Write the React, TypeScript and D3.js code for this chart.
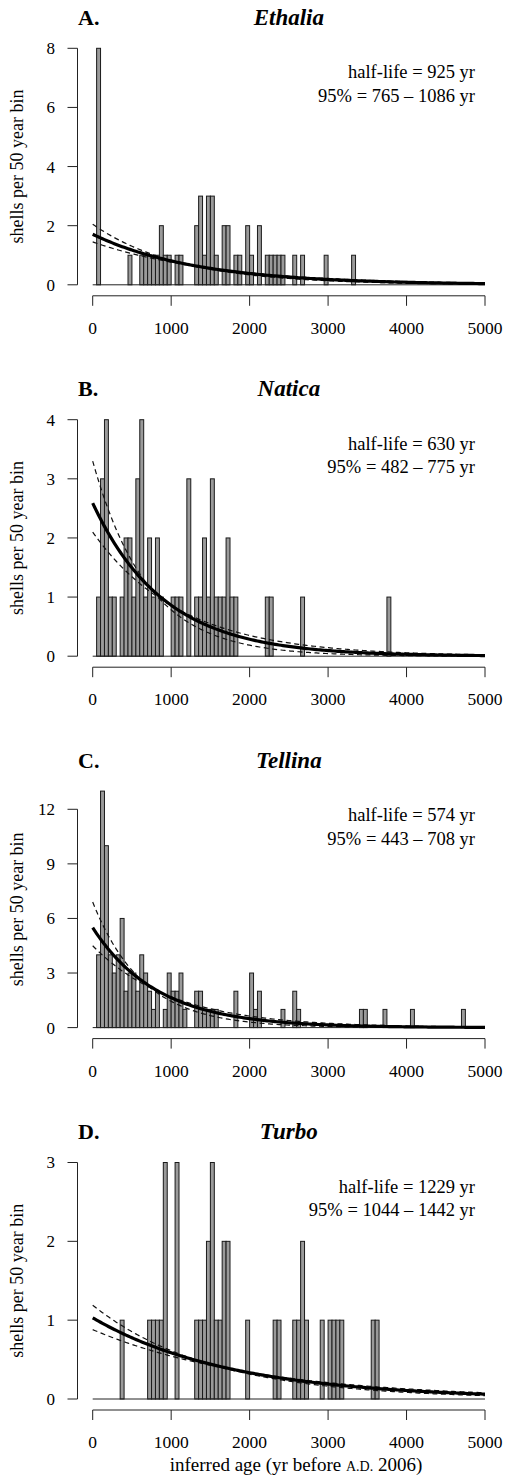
import React from 'react';
import * as d3 from 'd3';

// ---------- data ----------
const BIN_WIDTH = 50; // years per bin
const panelLetters = ['A.', 'B.', 'C.', 'D.'];
const taxa = ['Ethalia', 'Natica', 'Tellina', 'Turbo'];

// bin start (yr) and number of shells in that 50-year bin
const ethaliaBins = [50, 450, 600, 650, 700, 750, 800, 850, 900, 950, 1050, 1100, 1300, 1350, 1400, 1450, 1500, 1550, 1650, 1700, 1800, 1850, 1950, 2000, 2100, 2200, 2250, 2300, 2350, 2400, 2550, 2650, 2950, 3300];
const ethaliaCounts = [8, 1, 1, 1, 1, 1, 1, 2, 1, 1, 1, 1, 2, 3, 1, 3, 3, 1, 2, 2, 1, 1, 2, 1, 2, 1, 1, 1, 1, 1, 1, 1, 1, 1];

const naticaBins = [50, 100, 150, 200, 250, 350, 400, 450, 500, 550, 600, 650, 700, 750, 800, 850, 1000, 1050, 1100, 1200, 1300, 1350, 1400, 1450, 1500, 1550, 1600, 1650, 1700, 1750, 1800, 2200, 2250, 2650, 3750];
const naticaCounts = [1, 3, 4, 1, 1, 1, 2, 2, 1, 3, 4, 1, 2, 1, 2, 1, 1, 1, 1, 3, 1, 1, 2, 1, 3, 1, 1, 1, 2, 1, 1, 1, 1, 1, 1];

const tellinaBins = [50, 100, 150, 200, 250, 300, 350, 400, 450, 500, 550, 600, 650, 700, 750, 800, 900, 950, 1000, 1050, 1100, 1150, 1300, 1350, 1400, 1450, 1500, 1550, 1800, 2000, 2050, 2100, 2400, 2550, 2600, 3400, 3450, 3700, 4050, 4700];
const tellinaCounts = [4, 13, 10, 4, 3, 4, 6, 2, 3, 3, 2, 4, 3, 2, 1, 2, 1, 3, 2, 2, 3, 1, 2, 2, 1, 1, 1, 1, 2, 3, 1, 2, 1, 2, 1, 1, 1, 1, 1, 1];

const turboBins = [350, 700, 750, 800, 850, 900, 1050, 1300, 1350, 1400, 1450, 1500, 1550, 1600, 1650, 1700, 1950, 2300, 2350, 2550, 2600, 2650, 2700, 2900, 3000, 3050, 3100, 3150, 3550, 3600];
const turboCounts = [1, 1, 1, 1, 1, 3, 3, 1, 1, 1, 2, 3, 1, 1, 2, 2, 1, 1, 1, 1, 1, 2, 1, 1, 1, 1, 1, 1, 1, 1];

const binStarts = [ethaliaBins, naticaBins, tellinaBins, turboBins];
const binCounts = [ethaliaCounts, naticaCounts, tellinaCounts, turboCounts];

// fitted exponential decay (half-life) and 95% interval
const halfLives = [925, 630, 574, 1229];
const ciLower = [765, 482, 443, 1044];
const ciUpper = [1086, 775, 708, 1442];
const fitStart = [1.71, 2.59, 5.49, 1.03];      // fitted value at age 0
const fitStartLower = [2.05, 3.3, 6.9, 1.19];   // curve for lower half-life bound
const fitStartUpper = [1.45, 2.1, 4.5, 0.88];   // curve for upper half-life bound

const yMaxes = [8, 4, 13, 3];
const yTickValues = [[0, 2, 4, 6, 8], [0, 1, 2, 3, 4], [0, 3, 6, 9, 12], [0, 1, 2, 3]];
const xTickValues = [0, 1000, 2000, 3000, 4000, 5000];
const X_MAX = 5000;

// ---------- layout ----------
const W = 513;
const H = 1477;
const PLOT_LEFT = 92.7;
const PLOT_RIGHT = 485;
const PANEL_TOP0 = 48.3;
const PANEL_STEP = 371.4;
const PANEL_H = 236.5;
const Y_AXIS_X = 77.5;
const FONT = "'Liberation Serif', 'DejaVu Serif', 'Times New Roman', serif";

const xScale = d3.scaleLinear().domain([0, X_MAX]).range([PLOT_LEFT, PLOT_RIGHT]);

function Panel({ i }: { i: number }) {
  const top = PANEL_TOP0 + PANEL_STEP * i;
  const base = top + PANEL_H;
  const y = d3.scaleLinear().domain([0, yMaxes[i]]).range([base, top]);
  const ticks = yTickValues[i];
  const ages = d3.range(0, X_MAX + 1, 25);
  const curve = (a: number, hl: number) =>
    d3.line<number>()
      .x((t) => xScale(t))
      .y((t) => y(a * Math.pow(2, -t / hl)))(ages) as string;

  const bins = binStarts[i];
  const counts = binCounts[i];
  const xAxisY = base + 11;

  return (
    <g>
      {/* titles */}
      <text x={78} y={top - 23.3} fontFamily={FONT} fontWeight="bold" fontSize={22}>
        {panelLetters[i]}
      </text>
      <text x={(PLOT_LEFT + PLOT_RIGHT) / 2} y={top - 23.3} fontFamily={FONT} fontWeight="bold"
        fontStyle="italic" fontSize={23} textAnchor="middle">
        {taxa[i]}
      </text>
      {/* half-life text */}
      <text x={475} y={top + 30} fontFamily={FONT} fontSize={18.5} textAnchor="end">
        {`half-life = ${halfLives[i]} yr`}
      </text>
      <text x={475} y={top + 53.4} fontFamily={FONT} fontSize={18.5} textAnchor="end">
        {`95% = ${ciLower[i]} \u2013 ${ciUpper[i]} yr`}
      </text>

      {/* bars */}
      {bins.map((b, j) => (
        <rect key={j} x={xScale(b)} y={y(counts[j])}
          width={xScale(b + BIN_WIDTH) - xScale(b)} height={base - y(counts[j])}
          fill="#9a9a9a" stroke="#1a1a1a" strokeWidth={1} />
      ))}
      {/* baseline */}
      <line x1={xScale(0)} x2={xScale(X_MAX)} y1={base} y2={base} stroke="#222" strokeWidth={1} />

      {/* fitted curves */}
      <path d={curve(fitStartLower[i], ciLower[i])} fill="none" stroke="#111" strokeWidth={1.2} strokeDasharray="5,3.5" />
      <path d={curve(fitStartUpper[i], ciUpper[i])} fill="none" stroke="#111" strokeWidth={1.2} strokeDasharray="5,3.5" />
      <path d={curve(fitStart[i], halfLives[i])} fill="none" stroke="#000" strokeWidth={3.2} />

      {/* y axis */}
      <line x1={Y_AXIS_X} x2={Y_AXIS_X} y1={y(ticks[0])} y2={y(ticks[ticks.length - 1])} stroke="#222" strokeWidth={1} />
      {ticks.map((t) => (
        <g key={t}>
          <line x1={Y_AXIS_X - 10} x2={Y_AXIS_X} y1={y(t)} y2={y(t)} stroke="#222" strokeWidth={1} />
          <text x={55} y={y(t)} dy="0.35em" textAnchor="end" fontFamily={FONT} fontSize={17}>{t}</text>
        </g>
      ))}
      <text transform={`translate(17,${(top + base) / 2}) rotate(-90)`} textAnchor="middle"
        dominantBaseline="central" fontFamily={FONT} fontSize={18}>
        shells per 50 year bin
      </text>

      {/* x axis */}
      <line x1={xScale(0)} x2={xScale(X_MAX)} y1={xAxisY} y2={xAxisY} stroke="#222" strokeWidth={1} />
      {xTickValues.map((t) => (
        <g key={t}>
          <line x1={xScale(t)} x2={xScale(t)} y1={xAxisY} y2={xAxisY + 10} stroke="#222" strokeWidth={1} />
          <text x={xScale(t)} y={base + 49} textAnchor="middle" fontFamily={FONT} fontSize={17.5}>{t}</text>
        </g>
      ))}
    </g>
  );
}

export default function App() {
  const lastBase = PANEL_TOP0 + PANEL_STEP * 3 + PANEL_H;
  return (
    <svg width={W} height={H} style={{ position: 'absolute', left: 0, top: 0, background: '#fff' }}>
      <rect x={0} y={0} width={W} height={H} fill="#fff" />
      {[0, 1, 2, 3].map((i) => <Panel key={i} i={i} />)}
      <text x={296} y={lastBase + 72} textAnchor="middle" fontFamily={FONT} fontSize={19}>
        inferred age (yr before <tspan fontSize={14}>A.D.</tspan> 2006)
      </text>
    </svg>
  );
}
